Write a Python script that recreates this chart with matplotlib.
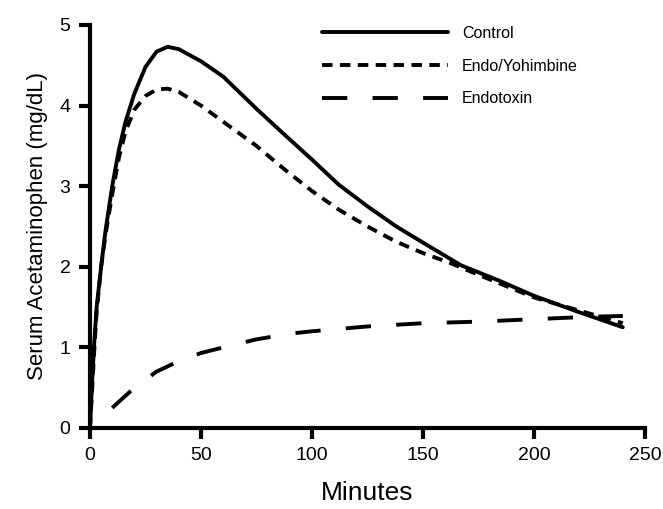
import matplotlib
matplotlib.use("Agg")
import matplotlib.pyplot as plt

plt.rcParams['font.family'] = ['Liberation Sans', 'DejaVu Sans']

ctrl_x = [0, 1, 2, 3, 5, 7, 10, 13, 16, 20, 25, 30, 35, 40, 50, 60, 75, 86, 100, 112, 125, 138, 150, 167, 185, 200, 220, 240]
ctrl_y = [0, 0.6, 1.1, 1.5, 2.0, 2.45, 3.0, 3.45, 3.8, 4.15, 4.48, 4.67, 4.73, 4.7, 4.55, 4.36, 3.96, 3.68, 3.33, 3.02, 2.75, 2.5, 2.3, 2.02, 1.82, 1.64, 1.44, 1.25]

yoh_x = [0, 1, 2, 3, 5, 7, 10, 13, 16, 20, 25, 30, 35, 40, 50, 60, 75, 88, 100, 112, 125, 138, 150, 162, 175, 200, 225, 240]
yoh_y = [0, 0.5, 1.0, 1.45, 2.0, 2.4, 2.9, 3.35, 3.68, 3.95, 4.12, 4.2, 4.21, 4.17, 4.0, 3.8, 3.5, 3.2, 2.94, 2.71, 2.5, 2.31, 2.17, 2.05, 1.9, 1.62, 1.42, 1.3]

endo_x = [10, 20, 30, 40, 50, 60, 75, 90, 100, 125, 150, 175, 200, 225, 240]
endo_y = [0.25, 0.5, 0.7, 0.83, 0.93, 1.0, 1.1, 1.17, 1.2, 1.26, 1.3, 1.32, 1.35, 1.38, 1.39]

labels = ["Control", "Endo/Yohimbine", "Endotoxin"]
xticks = [0, 50, 100, 150, 200, 250]
yticks = [0, 1, 2, 3, 4, 5]

fig = plt.figure(figsize=(6.63, 5.09), dpi=100)
ax = fig.add_axes([90/663, 1-428/509, (645-90)/663, (428-25)/509])

lw = 2.8
ax.plot(ctrl_x, ctrl_y, color='black', lw=lw, solid_capstyle='round', solid_joinstyle='round', label=labels[0])
ax.plot(yoh_x, yoh_y, color='black', lw=lw, linestyle=(0, (2.7, 1.9)), label=labels[1])
ax.plot(endo_x, endo_y, color='black', lw=lw, linestyle=(0, (6.5, 6.5)), label=labels[2])

ax.set_xlim(0, 250)
ax.set_ylim(0, 5)
ax.set_xticks(xticks)
ax.set_yticks(yticks)
for s in ['top', 'right']:
    ax.spines[s].set_visible(False)
for s in ['left', 'bottom']:
    ax.spines[s].set_linewidth(3)
ax.tick_params(axis='both', direction='out', width=3, length=8, labelsize=14, pad=6)
ax.set_xlabel("Minutes", fontsize=19, labelpad=12)
ax.set_ylabel("Serum Acetaminophen (mg/dL)", fontsize=16, labelpad=8)

leg = ax.legend(loc='upper left', bbox_to_anchor=(322/663, 1-26/509), bbox_transform=fig.transFigure,
                frameon=False, fontsize=11.5, handlelength=7.9, handletextpad=0.85,
                labelspacing=1.1, borderpad=0, borderaxespad=0)

fig.savefig("out.png", dpi=100)
